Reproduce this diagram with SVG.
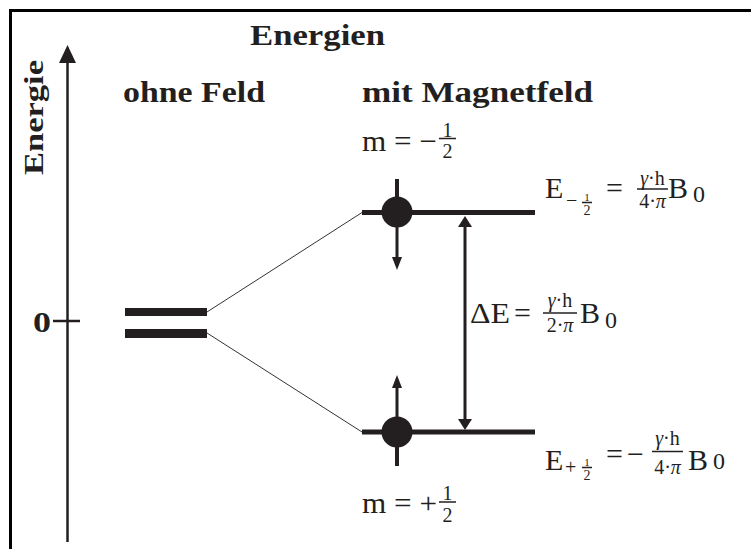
<svg xmlns="http://www.w3.org/2000/svg" width="751" height="549" viewBox="0 0 751 549" font-family="'Liberation Serif', 'Times New Roman', serif">
<style>
text{font-family:'Liberation Serif','Times New Roman',serif;fill:#231f20}
.b{font-weight:bold}
.ln{stroke:#231f20;fill:none}
.hd{fill:#231f20}
.it{font-style:italic}
</style>
<rect width="751" height="549" fill="#fff"/>
<g id="frame">
<line x1="9" y1="10.5" x2="751" y2="10.5" stroke="#000" stroke-width="3"/>
<line x1="10.5" y1="9" x2="10.5" y2="549" stroke="#000" stroke-width="3"/>
</g>
<g id="axis">
<line class="ln" x1="67.5" y1="542" x2="67.5" y2="60" stroke-width="2.5"/>
<polygon class="hd" points="67.5,45 59,63 76,63"/>
<line class="ln" x1="53" y1="321" x2="80" y2="321" stroke-width="2.5"/>
<text class="b" x="33" y="332" font-size="29" textLength="18" lengthAdjust="spacingAndGlyphs">0</text>
<text class="b" transform="translate(43,175) rotate(-90)" font-size="28" textLength="115" lengthAdjust="spacingAndGlyphs">Energie</text>
</g>
<g id="titles">
<text class="b" x="250" y="45" font-size="29" textLength="135" lengthAdjust="spacingAndGlyphs">Energien</text>
<text class="b" x="123" y="102" font-size="29" textLength="142" lengthAdjust="spacingAndGlyphs">ohne Feld</text>
<text class="b" x="362" y="102" font-size="29" textLength="231" lengthAdjust="spacingAndGlyphs">mit Magnetfeld</text>
</g>
<g id="level-zero">
<rect x="125" y="308" width="82" height="8" fill="#231f20"/>
<rect x="125" y="329" width="82" height="9" fill="#231f20"/>
</g>
<g id="connectors">
<line x1="207" y1="312" x2="362" y2="212.5" stroke="#333" stroke-width="1"/>
<line x1="207" y1="333" x2="362" y2="432" stroke="#333" stroke-width="1"/>
<line class="ln" x1="465" y1="226" x2="465" y2="419" stroke-width="3"/>
<polygon class="hd" points="465,216 458,227 472,227"/>
<polygon class="hd" points="465,430 458,419 472,419"/>
</g>
<g id="level-upper">
<line class="ln" x1="362" y1="212.5" x2="535" y2="212.5" stroke-width="5"/>
<circle cx="397" cy="212" r="15.5" fill="#231f20"/>
<line class="ln" x1="397" y1="179" x2="397" y2="212" stroke-width="4"/>
<line class="ln" x1="397" y1="212" x2="397" y2="260" stroke-width="3"/>
<polygon class="hd" points="397,270 392,257 402,257"/>
</g>
<g id="level-lower">
<line class="ln" x1="362" y1="432" x2="535" y2="432" stroke-width="5"/>
<circle cx="397" cy="432" r="15.5" fill="#231f20"/>
<line class="ln" x1="397" y1="432" x2="397" y2="466" stroke-width="4"/>
<line class="ln" x1="397" y1="432" x2="397" y2="385" stroke-width="3"/>
<polygon class="hd" points="397,375 392,388 402,388"/>
</g>
<g id="label-m-minus">
<text x="362" y="151" font-size="30" textLength="75" lengthAdjust="spacingAndGlyphs">m = −</text>
<text x="447.5" y="136.5" font-size="20" text-anchor="middle">1</text>
<line class="ln" x1="439" y1="138.5" x2="456" y2="138.5" stroke-width="1.5"/>
<text x="447.5" y="158" font-size="20" text-anchor="middle">2</text>
</g>
<g id="label-m-plus">
<text x="362" y="513" font-size="30" textLength="75" lengthAdjust="spacingAndGlyphs">m = +</text>
<text x="447.5" y="500" font-size="20" text-anchor="middle">1</text>
<line class="ln" x1="439" y1="502" x2="456" y2="502" stroke-width="1.5"/>
<text x="447.5" y="522" font-size="20" text-anchor="middle">2</text>
</g>
<g id="label-E-minus">
<text x="545" y="198" font-size="30">E</text>
<text x="566" y="207" font-size="20">−</text>
<text x="587" y="200.5" font-size="11" text-anchor="middle">1</text>
<line class="ln" x1="582" y1="202.5" x2="592" y2="202.5" stroke-width="1.5"/>
<text x="587" y="215" font-size="14" text-anchor="middle">2</text>
<text x="606" y="198" font-size="30">=</text>
<text x="652.5" y="185" font-size="20" text-anchor="middle"><tspan class="it">γ</tspan>·h</text>
<line class="ln" x1="637" y1="189" x2="668" y2="189" stroke-width="1.5"/>
<text x="652.5" y="208" font-size="20" text-anchor="middle">4·<tspan class="it">π</tspan></text>
<text x="668" y="198" font-size="30">B</text>
<text x="693" y="202" font-size="24">0</text>
</g>
<g id="label-delta-E">
<text x="470" y="323" font-size="30" textLength="40" lengthAdjust="spacingAndGlyphs">ΔE</text>
<text x="514" y="323" font-size="30">=</text>
<text x="560" y="307" font-size="20" text-anchor="middle"><tspan class="it">γ</tspan>·h</text>
<line class="ln" x1="543" y1="313" x2="577" y2="313" stroke-width="1.5"/>
<text x="560" y="332" font-size="20" text-anchor="middle">2·<tspan class="it">π</tspan></text>
<text x="580" y="323" font-size="30">B</text>
<text x="605" y="328" font-size="24">0</text>
</g>
<g id="label-E-plus">
<text x="545" y="470" font-size="30">E</text>
<text x="565" y="474" font-size="20">+</text>
<text x="587" y="465.5" font-size="11" text-anchor="middle">1</text>
<line class="ln" x1="582" y1="467.5" x2="592" y2="467.5" stroke-width="1.5"/>
<text x="587" y="480" font-size="14" text-anchor="middle">2</text>
<text x="606" y="464" font-size="30">=</text>
<text x="627" y="464" font-size="30">−</text>
<text x="667.5" y="445" font-size="20" text-anchor="middle"><tspan class="it">γ</tspan>·h</text>
<line class="ln" x1="652" y1="451.5" x2="683" y2="451.5" stroke-width="1.5"/>
<text x="667.5" y="474" font-size="20" text-anchor="middle">4·<tspan class="it">π</tspan></text>
<text x="688" y="470" font-size="30">B</text>
<text x="713" y="469" font-size="24">0</text>
</g>
</svg>
